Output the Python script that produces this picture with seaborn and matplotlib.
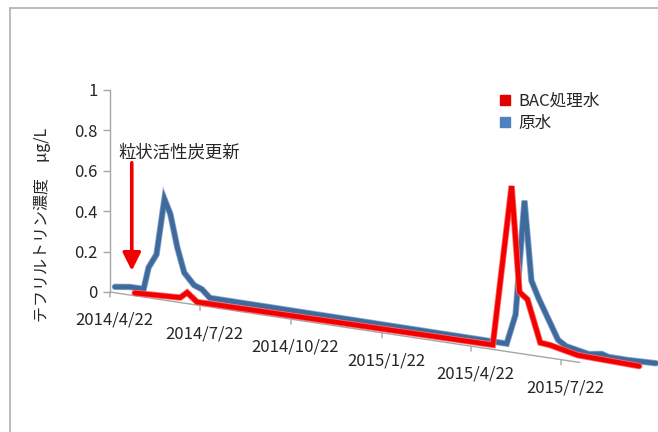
import math
import pandas as pd
import matplotlib
matplotlib.use("Agg")
import matplotlib.pyplot as plt
import matplotlib.dates as mdates
import matplotlib.patheffects as pe
from matplotlib.transforms import Affine2D
from matplotlib.lines import Line2D
import seaborn as sns

# ---- data -------------------------------------------------------------
bac_dates = ["2014-05-17", "2014-07-02", "2014-07-09", "2014-07-19",
             "2015-05-14", "2015-06-02", "2015-06-10", "2015-06-18",
             "2015-07-01", "2015-07-11", "2015-08-08", "2015-10-09"]
bac_values = [0.0, 0.01, 0.04, 0.0,
              0.0, 0.80, 0.28, 0.25,
              0.045, 0.04, 0.01, 0.0]

raw_dates = ["2014-04-25", "2014-05-10", "2014-05-24", "2014-05-29",
             "2014-06-06", "2014-06-14", "2014-06-20", "2014-06-27",
             "2014-07-04", "2014-07-14", "2014-07-22", "2014-07-30",
             "2015-05-26", "2015-06-04", "2015-06-13", "2015-06-20",
             "2015-06-27", "2015-07-17", "2015-07-25", "2015-08-17",
             "2015-08-30", "2015-09-06", "2015-09-26", "2015-10-24"]
raw_values = [0.0, 0.01, 0.01, 0.12,
              0.19, 0.47, 0.40, 0.24,
              0.12, 0.065, 0.05, 0.013,
              0.0, 0.15, 0.72, 0.33,
              0.25, 0.055, 0.03, 0.007,
              0.017, 0.007, 0.006, 0.01]

tick_dates = ["2014-04-22", "2014-07-22", "2014-10-22",
              "2015-01-22", "2015-04-22", "2015-07-22"]
tick_labels = ["2014/4/22", "2014/7/22", "2014/10/22",
               "2015/1/22", "2015/4/22", "2015/7/22"]
y_ticks = [0, 0.2, 0.4, 0.6, 0.8, 1]
y_tick_labels = ["0", "0.2", "0.4", "0.6", "0.8", "1"]

series_names = ["BAC処理水", "原水"]
renewal_label = "粒状活性炭更新"
renewal_date = "2014-05-14"
y_label = "テフリルトリン濃度　µg/L"

# ---- style ------------------------------------------------------------
sns.set_theme(style="white")
plt.rcParams["font.family"] = ["Noto Sans CJK JP", "DejaVu Sans"]
text_color = "#262626"
red = "#F20000"
blue = "#3F6A9C"

W, H, DPI = 658, 432, 100
fig = plt.figure(figsize=(W / DPI, H / DPI), dpi=DPI)


def dnum(d):
    return mdates.date2num(pd.Timestamp(d))


x_start = pd.Timestamp("2014-04-22")
x_end = pd.Timestamp("2015-10-28")
ax_left, ax_w = 110, 548
ax_zero, ax_h = 292, 202
ax = fig.add_axes([ax_left / W, (H - ax_zero) / H, ax_w / W, ax_h / H])


def oblique(slope, lift, shift=0.0):
    """Floor receding in perspective: push points down as they move right."""
    return (ax.transData
            + Affine2D().translate(-ax_left, 0)
            .skew(0, -math.atan(slope))
            .translate(ax_left + shift, lift))


floor_tr = oblique(0.150, 0.0)
bac_tr = oblique(0.145, 2.6)
raw_tr = oblique(0.145, 5.6, 2.0)   # back row sits a little up and right

# floor edge
floor_df = pd.DataFrame({"date": pd.to_datetime([x_start, "2015-08-10"]),
                         "v": [0.0, 0.0]})
sns.lineplot(data=floor_df, x="date", y="v", ax=ax, color="#A6A6A6", lw=1.0)
ax.lines[-1].set_transform(floor_tr)
ax.lines[-1].set_clip_on(False)

# the two series
for dates, vals, col, edge, tr in [
        (raw_dates, raw_values, blue, "#86A5CF", raw_tr),
        (bac_dates, bac_values, red, "#FF6A6A", bac_tr)]:
    df = pd.DataFrame({"date": pd.to_datetime(dates), "v": vals})
    sns.lineplot(data=df, x="date", y="v", ax=ax, color=col, lw=3.4,
                 estimator=None, sort=True)
    ln = ax.lines[-1]
    ln.set_transform(tr)
    ln.set_clip_on(False)
    ln.set_solid_joinstyle("miter")
    ln.set_path_effects([pe.Stroke(linewidth=4.6, foreground=edge),
                         pe.Normal()])

ax.set_xlim(x_start, x_end)
ax.set_ylim(0, 1)

# quarterly tick marks and date labels along the floor edge
for d, lab in zip(tick_dates, tick_labels):
    ax.annotate("", xy=(dnum(d), 0), xycoords=floor_tr,
                xytext=(0, -5), textcoords="offset pixels",
                arrowprops=dict(arrowstyle="-", color="#A6A6A6", lw=1.0,
                                shrinkA=0, shrinkB=0),
                annotation_clip=False)
    ax.annotate(lab, xy=(dnum(d), 0), xycoords=floor_tr,
                xytext=(4, -28), textcoords="offset pixels",
                ha="center", va="center", fontsize=12, color=text_color,
                annotation_clip=False)

# value axis
ax.set_yticks(y_ticks)
ax.set_yticklabels(y_tick_labels)
ax.set_xticks([])
ax.tick_params(axis="y", left=True, length=5, width=1.0, color="#A6A6A6",
               labelsize=12, labelcolor=text_color, pad=4)
for s in ["top", "right", "bottom"]:
    ax.spines[s].set_visible(False)
ax.spines["left"].set_color("#A6A6A6")
ax.spines["left"].set_linewidth(1.0)
ax.set_xlabel("")
ax.set_ylabel("")
ax.patch.set_alpha(0)
fig.text(43 / W, 1 - 225 / H, y_label, rotation=90, ha="center",
         va="center", fontsize=11.5, color=text_color)

# renewal marker
rd = dnum(renewal_date)
ax.annotate("", xy=(rd, 0.105), xytext=(rd, 0.64), xycoords="data",
            arrowprops=dict(arrowstyle="-|>,head_length=0.9,head_width=0.45",
                            color=red, lw=2.6, shrinkA=0, shrinkB=0))
ax.text(dnum("2014-04-30"), 0.688, renewal_label, ha="left",
        va="center", fontsize=12.5, color=text_color)

# legend
handles = [Line2D([], [], ls="none", marker="s", markersize=7,
                  color="#E00000"),
           Line2D([], [], ls="none", marker="s", markersize=7,
                  color="#4F81BD")]
fig.legend(handles, series_names, loc="upper left",
           bbox_to_anchor=(498 / W, 1 - 93 / H), frameon=False,
           fontsize=12, handlelength=0.8, handletextpad=0.4,
           labelspacing=0.3, borderaxespad=0, borderpad=0,
           labelcolor=text_color)

# chart frame (left and top edges)
frame_kw = dict(transform=fig.transFigure, color="#B0B0B0", lw=1.2)
fig.add_artist(Line2D([10 / W, 10 / W], [0, 1 - 8 / H], **frame_kw))
fig.add_artist(Line2D([10 / W, 1], [1 - 8 / H, 1 - 8 / H], **frame_kw))

fig.savefig("out.png", dpi=DPI, facecolor="white")
